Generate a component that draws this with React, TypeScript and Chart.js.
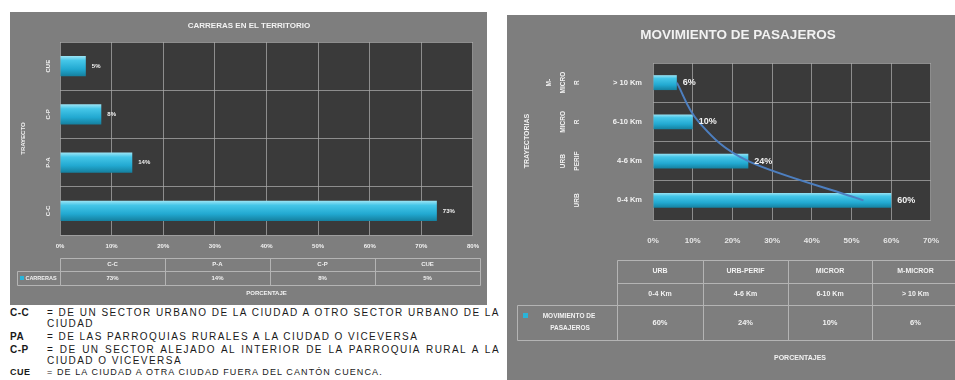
import React, { useEffect, useRef } from "react";
import { Chart, registerables } from "chart.js";

Chart.register(...registerables);

// ---------- data ----------
const tripTitle = "CARRERAS EN EL TERRITORIO";
const tripCategories = ["C-C", "P-A", "C-P", "CUE"];
const tripValues = [73, 14, 8, 5];
const tripSeriesName = "CARRERAS";
const tripAxisTitle = "TRAYECTO";
const tripValueTitle = "PORCENTAJE";

const paxTitle = "MOVIMIENTO DE PASAJEROS";
const paxGroups = ["URB", "URB-PERIF", "MICROR", "M-MICROR"];
const paxGroupLines = [["URB"], ["URB", "PERIF"], ["MICRO", "R"], ["M-", "MICRO", "R"]];
const paxRanges = ["0-4 Km", "4-6 Km", "6-10 Km", "> 10 Km"];
const paxValues = [60, 24, 10, 6];
const paxTrend = [53, 24, 11.5, 6];
const paxSeriesName = ["MOVIMIENTO DE", "PASAJEROS"];
const paxAxisTitle = "TRAYECTORIAS";
const paxValueTitle = "PORCENTAJES";

const notes = [
  { code: "C-C", text: "= DE UN SECTOR URBANO DE LA CIUDAD A OTRO SECTOR URBANO DE LA CIUDAD" },
  { code: "PA", text: "= DE LAS PARROQUIAS RURALES A LA CIUDAD O VICEVERSA" },
  { code: "C-P", text: "= DE UN SECTOR ALEJADO AL INTERIOR DE LA PARROQUIA RURAL A LA CIUDAD O VICEVERSA" },
  { code: "CUE", text: "= DE LA CIUDAD A OTRA CIUDAD FUERA DEL CANTÓN CUENCA." },
];

// ---------- styles ----------
const PANEL = "#7e7e7e";
const PLOT = "#3a3a3a";
const GRID = "rgba(170,170,170,0.75)";
const TABLE_LINE = "#b4b4b4";
const TXT = "#f2f2f2";
const FONT = "'Liberation Sans', Arial, sans-serif";

function barGradient(chart: any, y: number, h: number) {
  const g = chart.ctx.createLinearGradient(0, y - h / 2, 0, y + h / 2);
  g.addColorStop(0, "#9be4f5");
  g.addColorStop(0.22, "#45c6e8");
  g.addColorStop(0.65, "#22a9d1");
  g.addColorStop(1, "#15809f");
  return g;
}

function scriptedBar(thickness: number) {
  return (ctx: any) => {
    const chart = ctx.chart;
    const ys = chart.scales && chart.scales.y;
    if (!ys || !chart.chartArea) return "#29b3d8";
    const y = ys.getPixelForValue(ctx.dataIndex);
    if (!isFinite(y)) return "#29b3d8";
    return barGradient(chart, y, thickness);
  };
}

function text(ctx: any, s: string, x: number, y: number, size: number, align: CanvasTextAlign = "center", bold = true, color = TXT) {
  ctx.font = `${bold ? "bold " : ""}${size}px ${FONT}`;
  ctx.fillStyle = color;
  ctx.textAlign = align;
  ctx.textBaseline = "middle";
  ctx.fillText(s, x, y);
}

function rotText(ctx: any, s: string, x: number, y: number, size: number, bold = true) {
  ctx.save();
  ctx.translate(x, y);
  ctx.rotate(-Math.PI / 2);
  text(ctx, s, 0, 0, size, "center", bold);
  ctx.restore();
}

function line(ctx: any, x1: number, y1: number, x2: number, y2: number) {
  ctx.beginPath();
  ctx.moveTo(x1 + 0.5, y1 + 0.5);
  ctx.lineTo(x2 + 0.5, y2 + 0.5);
  ctx.stroke();
}

const backgroundPlugin = {
  id: "panelBg",
  beforeDraw(chart: any) {
    const { ctx, chartArea: ca, width, height } = chart;
    ctx.save();
    ctx.fillStyle = PANEL;
    ctx.fillRect(0, 0, width, height);
    ctx.fillStyle = PLOT;
    ctx.fillRect(ca.left, ca.top, ca.right - ca.left, ca.bottom - ca.top);
    ctx.restore();
  },
};

const tripDecor = {
  id: "tripDecor",
  afterDraw(chart: any) {
    const ctx = chart.ctx;
    const ys = chart.scales.y;
    const ca = chart.chartArea;
    const meta = chart.getDatasetMeta(0);
    ctx.save();
    text(ctx, tripTitle, 239, 14, 8);
    rotText(ctx, tripAxisTitle, 13, (ca.top + ca.bottom) / 2, 6);
    tripCategories.forEach((c, i) => {
      rotText(ctx, c, 38, ys.getPixelForValue(i), 6);
    });
    meta.data.forEach((bar: any, i: number) => {
      text(ctx, tripValues[i] + "%", bar.x + 6, bar.y, 6, "left");
    });
    // data table
    const cols = [50, 155, 260, 365, 470];
    const rows = [246, 259, 273];
    ctx.strokeStyle = TABLE_LINE;
    ctx.lineWidth = 1;
    rows.forEach((r) => line(ctx, cols[0], r, cols[4], r));
    cols.forEach((c) => line(ctx, c, rows[0], c, rows[2]));
    line(ctx, 7, rows[1], cols[0], rows[1]);
    line(ctx, 7, rows[2], cols[0], rows[2]);
    line(ctx, 7, rows[1], 7, rows[2]);
    tripCategories.forEach((c, i) => {
      const cx = (cols[i] + cols[i + 1]) / 2;
      text(ctx, c, cx, (rows[0] + rows[1]) / 2, 6);
      text(ctx, tripValues[i] + "%", cx, (rows[1] + rows[2]) / 2, 6);
    });
    ctx.fillStyle = "#2ab4d8";
    ctx.fillRect(10, 264, 4, 4);
    text(ctx, tripSeriesName, 31, (rows[1] + rows[2]) / 2, 5.5);
    text(ctx, tripValueTitle, (ca.left + ca.right) / 2, 281, 6);
    ctx.restore();
  },
};

const paxDecor = {
  id: "paxDecor",
  afterDraw(chart: any) {
    const ctx = chart.ctx;
    const ys = chart.scales.y;
    const meta = chart.getDatasetMeta(1);
    ctx.save();
    text(ctx, paxTitle, 231, 20, 13.5);
    rotText(ctx, paxAxisTitle, 20, 126, 7);
    paxRanges.forEach((r, i) => {
      const y = ys.getPixelForValue(i);
      text(ctx, r, 135, y, 7.5, "right");
      const lines = paxGroupLines[i];
      lines.forEach((l, k) => {
        const x = 70 - (lines.length - 1 - k) * 14;
        rotText(ctx, l, x, y, 6.5);
      });
    });
    meta.data.forEach((bar: any, i: number) => {
      text(ctx, paxValues[i] + "%", bar.x + 6, bar.y, 9, "left");
    });
    // data table
    const cols = [110, 196, 281, 365, 452];
    const rows = [245, 268, 290, 325];
    ctx.strokeStyle = TABLE_LINE;
    ctx.lineWidth = 1;
    rows.forEach((r, k) => line(ctx, k === 3 ? 10 : cols[0], r, cols[4], r));
    cols.forEach((c) => line(ctx, c, rows[0], c, rows[3]));
    line(ctx, 10, rows[2], cols[0], rows[2]);
    line(ctx, 10, rows[2], 10, rows[3]);
    paxGroups.forEach((g, i) => {
      const cx = (cols[i] + cols[i + 1]) / 2;
      text(ctx, g, cx, (rows[0] + rows[1]) / 2, 7);
      text(ctx, paxRanges[i], cx, (rows[1] + rows[2]) / 2, 7);
      text(ctx, paxValues[i] + "%", cx, (rows[2] + rows[3]) / 2, 7.5);
    });
    ctx.fillStyle = "#2ab4d8";
    ctx.fillRect(16, 298, 5, 5);
    text(ctx, paxSeriesName[0], 62, 301, 6.5);
    text(ctx, paxSeriesName[1], 63, 313, 6.5);
    text(ctx, paxValueTitle, 293, 343, 7);
    ctx.restore();
  },
};

function tripConfig(): any {
  return {
    type: "bar",
    data: {
      labels: tripCategories,
      datasets: [
        {
          label: tripSeriesName,
          data: tripValues,
          backgroundColor: scriptedBar(20),
          categoryPercentage: 1,
          barPercentage: 0.42,
        },
      ],
    },
    options: {
      indexAxis: "y",
      animation: false,
      responsive: false,
      devicePixelRatio: 1,
      layout: { padding: { top: 30, right: 14, left: 0, bottom: 0 } },
      plugins: { legend: { display: false }, tooltip: { enabled: false }, title: { display: false } },
      scales: {
        x: {
          min: 0,
          max: 80,
          ticks: {
            stepSize: 10,
            callback: (v: any) => v + "%",
            color: TXT,
            font: { size: 6, weight: "bold", family: FONT },
            padding: 8,
            maxRotation: 0,
          },
          grid: { color: GRID, drawTicks: false },
          border: { display: false },
          afterFit: (s: any) => {
            s.height = 70;
          },
        },
        y: {
          reverse: true,
          ticks: { display: false },
          grid: { color: GRID, drawTicks: false, offset: true },
          border: { display: false },
          afterFit: (s: any) => {
            s.width = 50;
          },
        },
      },
    },
    plugins: [backgroundPlugin, tripDecor],
  };
}

function paxConfig(): any {
  return {
    type: "bar",
    data: {
      labels: paxRanges,
      datasets: [
        {
          type: "line",
          label: "trend",
          data: paxTrend,
          borderColor: "#4d7fc0",
          borderWidth: 2,
          pointRadius: 0,
          cubicInterpolationMode: "monotone",
          order: 0,
        },
        {
          label: paxSeriesName.join(" "),
          data: paxValues,
          backgroundColor: scriptedBar(15),
          categoryPercentage: 1,
          barPercentage: 0.38,
          order: 1,
        },
      ],
    },
    options: {
      indexAxis: "y",
      animation: false,
      responsive: false,
      devicePixelRatio: 1,
      layout: { padding: { top: 48, right: 10, left: 0, bottom: 0 } },
      plugins: { legend: { display: false }, tooltip: { enabled: false }, title: { display: false } },
      scales: {
        x: {
          min: 0,
          max: 70,
          ticks: {
            stepSize: 10,
            callback: (v: any) => v + "%",
            color: "#e6e6e6",
            font: { size: 8, weight: "bold", family: FONT },
            padding: 16,
            maxRotation: 0,
          },
          grid: { color: GRID, drawTicks: false },
          border: { display: false },
          afterFit: (s: any) => {
            s.height = 160;
          },
        },
        y: {
          reverse: true,
          ticks: { display: false },
          grid: { color: GRID, drawTicks: false, offset: true },
          border: { display: false },
          afterFit: (s: any) => {
            s.width = 146;
          },
        },
      },
    },
    plugins: [backgroundPlugin, paxDecor],
  };
}

function ChartBox(props: { make: () => any; left: number; top: number; width: number; height: number }) {
  const ref = useRef<HTMLCanvasElement>(null);
  useEffect(() => {
    const chart = new Chart(ref.current as HTMLCanvasElement, props.make());
    return () => chart.destroy();
  }, []);
  return (
    <canvas
      ref={ref}
      width={props.width}
      height={props.height}
      style={{ position: "absolute", left: props.left, top: props.top, width: props.width, height: props.height }}
    />
  );
}

const noteTops = [307, 331, 344, 367];

export default function App() {
  return (
    <div style={{ position: "fixed", left: 0, top: 0, width: 955, height: 380, background: "#ffffff", overflow: "hidden" }}>
      <ChartBox make={tripConfig} left={10} top={12} width={477} height={293} />
      <ChartBox make={paxConfig} left={507} top={15} width={448} height={365} />
      {notes.map((n, i) => (
        <div
          key={n.code}
          style={{
            position: "absolute",
            left: 10,
            top: noteTops[i],
            width: 490,
            display: "flex",
            fontFamily: FONT,
            fontSize: i === 3 ? 9 : 10,
            lineHeight: "11px",
            color: "#1a1a1a",
          }}
        >
          <div style={{ width: 37, flex: "none", fontWeight: "bold", letterSpacing: 0.5 }}>{n.code}</div>
          <div style={{ width: 453, textAlign: "justify", letterSpacing: i === 3 ? 1.1 : 1.45 }}>{n.text}</div>
        </div>
      ))}
    </div>
  );
}
